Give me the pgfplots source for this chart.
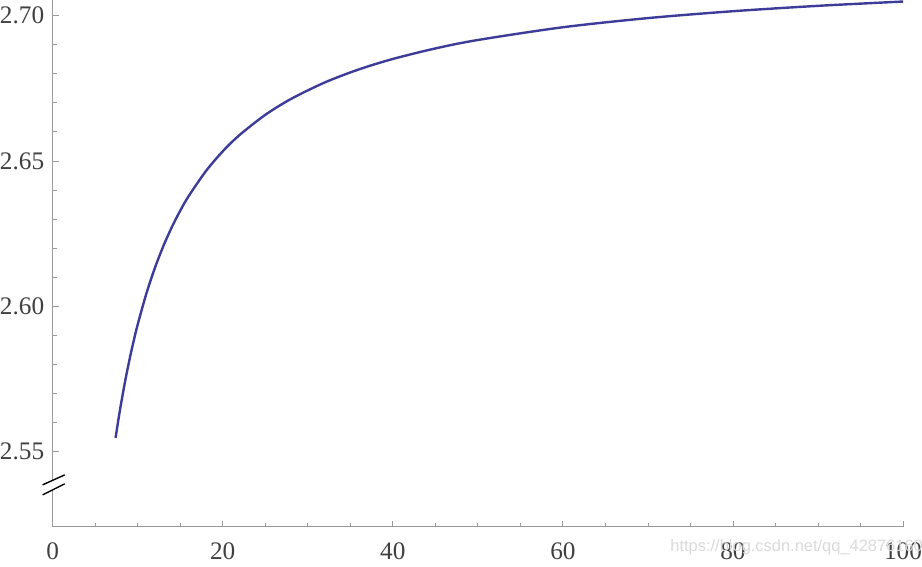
\documentclass[border=0pt]{standalone}
\usepackage{fontspec}
\setmainfont{Liberation Serif}
\newfontfamily\wmfont{Liberation Sans}
\usepackage{pgfplots}
\pgfplotsset{compat=1.18}
\definecolor{curve}{rgb}{0.24,0.24,0.6}
\definecolor{axgray}{gray}{0.6}
\definecolor{lblgray}{gray}{0.25}

\begin{document}
\begin{tikzpicture}
\begin{axis}[
    scale only axis,
    width=424pt, height=262.5pt,
    xmin=0, xmax=100,
    ymin=2.52414, ymax=2.70517,
    axis lines*=left,
    axis line style={axgray, line width=0.5pt},
    xtick={0,20,40,60,80,100},
    ytick={2.55,2.60,2.65,2.70},
    minor x tick num=3,
    minor y tick num=4,
    tick align=inside,
    major tick length=3pt,
    minor tick length=2pt,
    tick style={axgray, line width=0.4pt},
    ticklabel style={font=\fontsize{12.6}{15}\selectfont, text=lblgray, inner xsep=0pt},
    yticklabel style={/pgf/number format/fixed, /pgf/number format/fixed zerofill,
        /pgf/number format/precision=2, xshift=-4pt},
    /pgf/number format/assume math mode=true,
    xticklabel style={yshift=-4.5pt},
    clip=false,
]
\addplot[curve, line width=1.2pt, smooth] coordinates {
(7.4,2.554780) (7.7,2.560467) (8,2.565785) (8.5,2.573888) (9,2.581175)
(9.5,2.587761) (10,2.593742) (11,2.604199) (12,2.613035) (13,2.620601)
(14,2.627152) (15,2.632879) (16,2.637928) (18,2.646425) (20,2.653298)
(22,2.658971) (25,2.665836) (28,2.671277) (32,2.676990) (36,2.681464)
(40,2.685064) (45,2.688681) (50,2.691588) (60,2.695971) (70,2.699117)
(80,2.701485) (90,2.703333) (100,2.704814)
};
% axis break mark
\fill[white] (rel axis cs:-0.0118,0.061) -- (rel axis cs:0.0142,0.082)
    -- (rel axis cs:0.0142,0.099) -- (rel axis cs:-0.0118,0.080) -- cycle;
\draw[black, line width=0.7pt] (rel axis cs:-0.0118,0.080) -- (rel axis cs:0.0142,0.099);
\draw[black, line width=0.7pt] (rel axis cs:-0.0118,0.061) -- (rel axis cs:0.0142,0.082);
% watermark
\node[overlay, anchor=west, inner sep=0pt, text=gray!30, font=\wmfont\fontsize{8.2}{10}\selectfont]
    at (axis cs:72.6,2.5172) {https://blog.csdn.net/qq\_42876160};
\end{axis}
\end{tikzpicture}
\end{document}
